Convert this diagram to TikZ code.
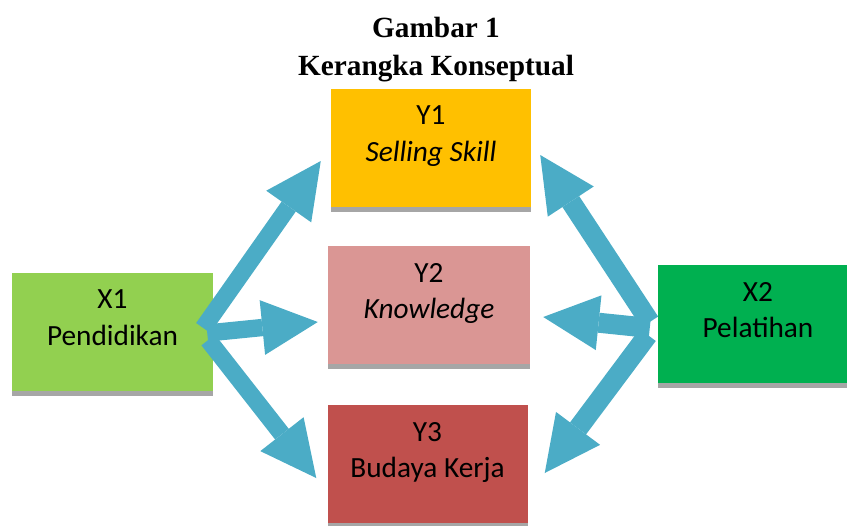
\documentclass[tikz,border=0pt]{standalone}
\usepackage{fontspec}
\setmainfont{Liberation Serif}
\newfontfamily\calibri{Carlito}
\usetikzlibrary{arrows.meta,shadows}
\definecolor{ygold}{HTML}{FFC000}
\definecolor{ypink}{HTML}{DA9694}
\definecolor{yred}{HTML}{C0504D}
\definecolor{xlime}{HTML}{92D050}
\definecolor{xgreen}{HTML}{00B050}
\definecolor{arrowblue}{HTML}{4BACC6}
\definecolor{shadowgray}{HTML}{A6A6A6}

\begin{document}
\begin{tikzpicture}[x=0.03cm,y=-0.03cm,
   box/.style={rectangle,minimum width=6cm,minimum height=3.54cm,inner sep=0pt,align=center,
     font=\calibri\fontsize{25}{31.5}\selectfont,text depth=24pt,
     drop shadow={shadow xshift=0pt,shadow yshift=-4.3pt,fill=shadowgray,opacity=1}},
   link/.style={arrowblue,line width=0.52cm,-{Triangle[length=1.67cm,width=1.65cm,line width=0pt]}}]
 \useasboundingbox (0,0) rectangle (847,525);
 \clip (0,0) rectangle (847,525);
 % title
 \node[font=\bfseries\fontsize{25}{32.3}\selectfont,align=center,anchor=base] (title) at (436,75)
   {Gambar 1\\Kerangka Konseptual};
 % dependent variables (middle column)
 \node[box,fill=ygold] (y1) at (431,148) {Y1\\\textit{Selling Skill}};
 \node[box,fill=ypink,minimum width=6.06cm] (y2) at (429,305) {Y2\\\textit{Knowledge}};
 \node[box,fill=yred] (y3) at (427.5,464) {Y3\\Budaya Kerja};
 % independent variables
 \node[box,fill=xlime] (x1) at (112.5,332) {X1\\Pendidikan};
 \node[box,fill=xgreen] (x2) at (758,324) {X2\\Pelatihan};
 % arrows from X1
 \draw[link] ([shift={(-9.5,-4)}]x1.east) -- ([shift={(-10,13)}]y1.west);
 \draw[link] ([shift={(-5.5,1)}]x1.east) -- ([shift={(-10,17)}]y2.west);
 \draw[link] ([shift={(-4.5,8)}]x1.east) -- ([shift={(-11,14)}]y3.west);
 % arrows from X2 (a little heavier)
 \draw[link,line width=0.6cm] ([shift={(-8,-2)}]x2.west) -- ([shift={(9,7)}]y1.east);
 \draw[link,line width=0.6cm] ([shift={(-8,4)}]x2.west) -- ([shift={(13,12)}]y2.east);
 \draw[link,line width=0.6cm] ([shift={(-10,11)}]x2.west) -- ([shift={(17,9)}]y3.east);
\end{tikzpicture}
\end{document}
